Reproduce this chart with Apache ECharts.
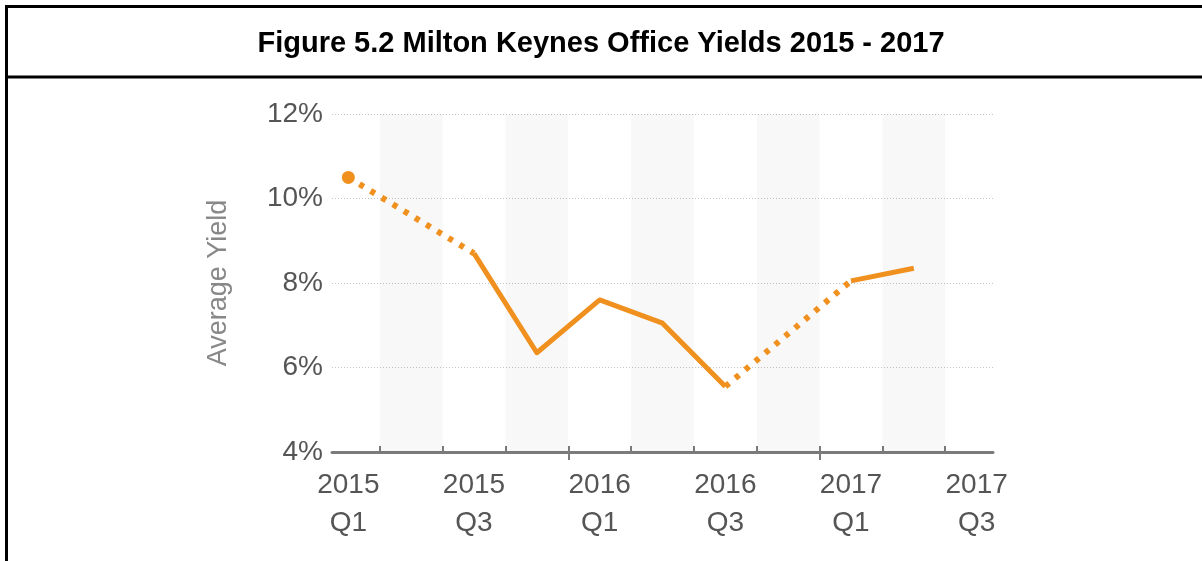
<!DOCTYPE html>
<html>
<head>
<meta charset="utf-8">
<script src="https://cdn.jsdelivr.net/npm/echarts@6/dist/echarts.min.js"></script>
<style>
  html, body { margin: 0; padding: 0; background: #fff; }
  #chart { width: 1202px; height: 561px; }
</style>
</head>
<body>
<div id="chart"></div>
<script>
// Quarterly office yields, Milton Keynes
const quarters = ['2015 Q1', '2015 Q2', '2015 Q3', '2015 Q4',
                  '2016 Q1', '2016 Q2', '2016 Q3', '2016 Q4',
                  '2017 Q1', '2017 Q2', '2017 Q3'];
// Average yield (%), null where no figure was recorded for the quarter
const yieldPct = [10.5, null, 8.7, 6.35, 7.6, 7.05, 5.55, null, 8.05, 8.35, null];
const yTicks = [4, 6, 8, 10, 12];
const labelledQuarters = ['2015 Q1', '2015 Q3', '2016 Q1', '2016 Q3', '2017 Q1', '2017 Q3'];
const yearStarts = ['2016 Q1', '2017 Q1'];

const ORANGE = '#F0901E';
const AXIS_GREY = '#7b7b7b';

// Quarter index used as the x position
const xOf = q => quarters.indexOf(q);

// Boundaries between quarters carry the small ticks
const boundaryTicks = quarters.slice(1).map((q, i) => i + 0.5);
const yearTicks = yearStarts.map(q => xOf(q) - 0.5);
const labelValues = labelledQuarters.map(xOf);

// Solid line through recorded quarters
const solidData = yieldPct.map((v, i) => [i, v]);
const isIsolated = i => yieldPct[i] != null &&
  (i === 0 || yieldPct[i - 1] == null) &&
  (i === yieldPct.length - 1 || yieldPct[i + 1] == null);

// Dotted bridges across quarters with no figure
const bridges = [];
for (let i = 0; i < yieldPct.length; i++) {
  if (yieldPct[i] == null && i > 0 && yieldPct[i - 1] != null) {
    let j = i;
    while (j < yieldPct.length && yieldPct[j] == null) j++;
    if (j < yieldPct.length) bridges.push([[i - 1, yieldPct[i - 1]], [j, yieldPct[j]]]);
    i = j - 1;
  }
}

// Alternate quarter shading
const bandAreas = quarters
  .map((q, i) => i)
  .filter(i => i % 2 === 1)
  .map(i => [{ xAxis: i - 0.5, yAxis: yTicks[0] }, { xAxis: i + 0.5, yAxis: yTicks[yTicks.length - 1] }]);

// Axis runs a little past the first and last quarter centres
const xMin = -0.26, xMax = quarters.length - 1 + 0.26;

const series = [{
  type: 'line',
  data: solidData,
  connectNulls: false,
  symbol: (val, p) => isIsolated(p.dataIndex) ? 'circle' : 'none',
  symbolSize: 13,
  itemStyle: { color: ORANGE },
  lineStyle: { color: ORANGE, width: 5, join: 'round' },
  z: 3,
  silent: true,
  markArea: {
    silent: true,
    itemStyle: { color: 'rgba(0,0,0,0.028)' },
    data: bandAreas
  }
}];
bridges.forEach(b => series.push({
  type: 'line',
  data: b,
  symbol: 'none',
  silent: true,
  z: 3,
  lineStyle: { color: ORANGE, width: 6, type: [5, 8], cap: 'butt' }
}));

const chart = echarts.init(document.getElementById('chart'), null, { renderer: 'canvas' });
chart.setOption({
  animation: false,
  backgroundColor: '#fff',
  textStyle: { fontFamily: 'Liberation Sans, Arial, sans-serif' },
  title: {
    text: 'Figure 5.2 Milton Keynes Office Yields 2015 - 2017',
    left: 'center',
    top: 24,
    textStyle: { fontSize: 29, fontWeight: 'bold', color: '#000', fontFamily: 'Liberation Sans, Arial, sans-serif' }
  },
  graphic: [
    { type: 'line', shape: { x1: 6.5, y1: 5, x2: 6.5, y2: 561 }, style: { stroke: '#000', lineWidth: 3 } },
    { type: 'line', shape: { x1: 5, y1: 6.5, x2: 1202, y2: 6.5 }, style: { stroke: '#000', lineWidth: 3 } },
    { type: 'line', shape: { x1: 5, y1: 77, x2: 1202, y2: 77 }, style: { stroke: '#000', lineWidth: 3 } }
  ],
  grid: { left: 332, right: 209, top: 114, bottom: 109, containLabel: false },
  xAxis: [{
    type: 'value',
    min: xMin,
    max: xMax,
    splitLine: { show: false },
    axisLine: { show: true, lineStyle: { color: AXIS_GREY, width: 3 } },
    axisTick: {
      show: true, inside: true, length: 6, customValues: boundaryTicks,
      lineStyle: { color: AXIS_GREY, width: 2 }
    },
    axisLabel: {
      show: true,
      customValues: labelValues,
      formatter: v => quarters[Math.round(v)].replace(' ', '\n'),
      fontSize: 28,
      lineHeight: 38,
      color: '#555',
      margin: 14
    }
  }, {
    type: 'value',
    min: xMin,
    max: xMax,
    position: 'bottom',
    splitLine: { show: false },
    axisLine: { show: false },
    axisTick: {
      show: true, inside: false, length: 8, customValues: yearTicks,
      lineStyle: { color: AXIS_GREY, width: 2 }
    },
    axisLabel: { show: false }
  }],
  yAxis: {
    type: 'value',
    min: yTicks[0],
    max: yTicks[yTicks.length - 1],
    interval: 2,
    name: 'Average Yield',
    nameLocation: 'middle',
    nameGap: 100,
    nameTextStyle: { fontSize: 27, color: '#888' },
    axisLine: { show: false },
    axisTick: { show: false },
    axisLabel: { formatter: '{value}%', fontSize: 28, color: '#555', margin: 9 },
    splitLine: { show: true, lineStyle: { color: '#c4c4c4', width: 1, type: [1, 2] } }
  },
  series: series
});
</script>
</body>
</html>
